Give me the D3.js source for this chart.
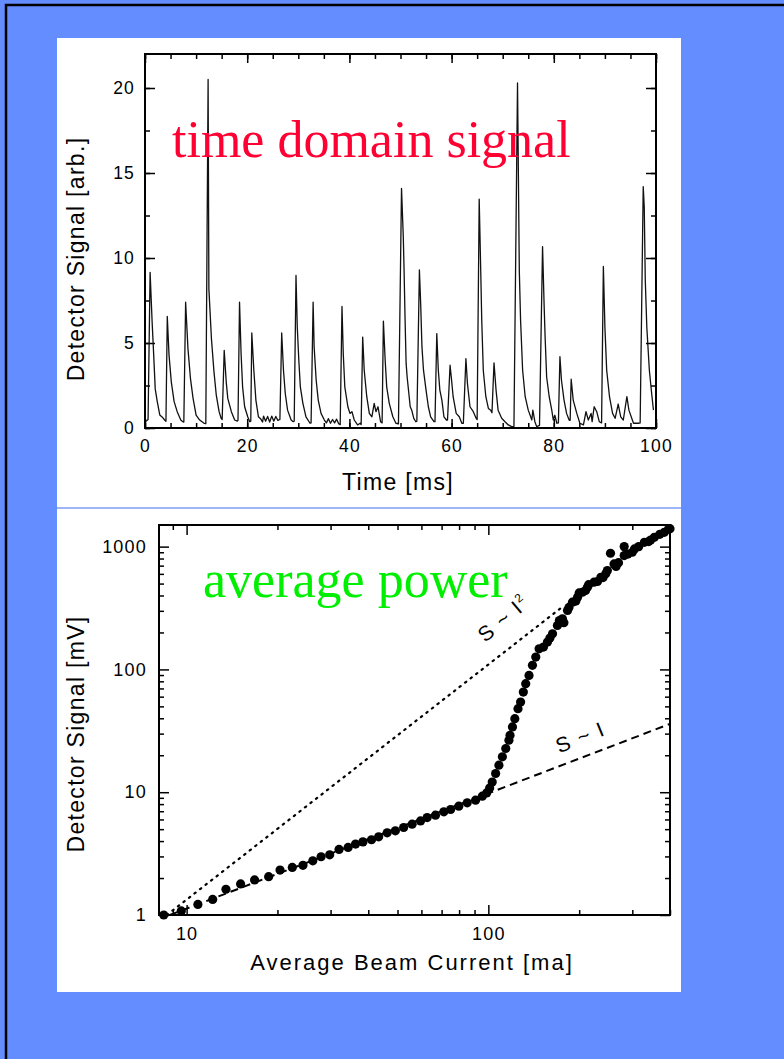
<!DOCTYPE html>
<html>
<head>
<meta charset="utf-8">
<script src="https://cdn.jsdelivr.net/npm/d3@7"></script>
<style>
  body { margin: 0; background: #648eff; }
  svg { display: block; }
  .tick text { font-family: "Liberation Sans", Arial, sans-serif; fill: #000; }
  .tick line { stroke: #000; stroke-width: 1.5; }
</style>
</head>
<body>
<div id="chart"></div>
<script>
// ---- top panel: detector signal vs time ----
const timeMs = [0.2, 0.6, 1.0, 1.4, 1.7, 2.0, 2.4, 2.9, 3.5, 3.85, 4.1,
  4.36, 4.7, 5.15, 5.7, 6.3, 7.0, 7.4, 7.6,
  7.95, 8.4, 8.9, 9.4, 10.0, 10.7, 11.5, 11.9,
  12.35, 12.5, 13.0, 13.5, 13.95, 14.5, 14.9, 15.1,
  15.5, 15.9, 16.2, 16.9, 17.55, 18.05, 18.2,
  18.5, 18.8, 19.1, 19.5, 20.1, 20.5, 20.7,
  20.9, 21.3, 21.7, 22.2, 22.7, 23.0, 23.2, 23.6, 24.0, 24.4, 24.8, 25.2, 25.6, 26.0, 26.4,
  26.75, 27.1, 27.45, 27.9, 28.6, 29.0, 29.2,
  29.55, 29.8, 30.1, 30.4, 30.9, 31.5, 32.3, 32.5,
  32.9, 33.1, 33.5, 33.9, 34.45, 35.1, 35.5, 35.9, 36.3, 36.7, 37.1, 37.5, 37.9, 38.2,
  38.55, 38.8, 39.1, 39.7, 40.1, 40.5, 40.95, 41.6, 42.1, 42.3,
  42.6, 42.9, 43.4, 43.9, 44.4, 44.85, 45.2, 45.6, 46.1, 46.4,
  46.65, 47.0, 47.3, 47.8, 48.5, 49.1, 49.6,
  50.2, 50.55, 50.7, 50.9, 51.1, 51.3, 51.9, 52.2, 52.6, 53.0, 53.2,
  53.7, 53.95, 54.2, 54.5, 55.0, 55.45, 55.9, 56.55, 56.75,
  57.1, 57.4, 57.7, 58.1, 58.5, 59.0, 59.2,
  59.7, 60.0, 60.3, 60.9, 61.5, 62.0, 62.3,
  62.8, 63.1, 63.6, 64.25, 64.8, 65.0,
  65.4, 65.7, 65.9, 66.2, 66.7, 67.2, 67.65, 67.9,
  68.3, 68.7, 69.1, 69.8, 70.45, 71.1, 71.75, 72.2,
  72.9, 73.25, 73.5, 73.9, 74.4, 75.0, 75.7, 75.9, 76.3, 76.65, 77.2,
  77.8, 78.1, 78.3, 78.6, 79.1, 79.6, 79.9, 80.2, 80.6, 80.9,
  81.2, 81.5, 82.0, 82.5, 83.0, 83.2,
  83.4, 83.8, 84.5, 85.1, 85.8, 86.3, 86.75, 87.3, 87.5, 87.9, 88.4, 88.9, 89.35,
  89.7, 90.0, 90.35, 90.9, 91.5, 92.0, 92.6, 93.1, 93.6, 94.3, 94.7, 95.25, 95.6, 96.55, 96.9,
  97.5, 97.7, 97.9, 98.2, 98.7, 99.15, 99.5];
const detectorArb = [0.4, 0.5, 9.16, 6.2, 4.3, 2.3, 1.55, 0.76, 0.6, 0.47, 0.4,
  6.56, 4.3, 2.7, 1.55, 0.96, 0.47, 0.37, 0.35,
  7.4, 4.7, 2.9, 1.76, 0.76, 0.47, 0.29, 0.25,
  20.5, 8.2, 5.26, 3.3, 1.93, 0.96, 0.57, 0.5,
  4.57, 2.7, 1.74, 0.96, 0.47, 0.41, 0.45,
  7.4, 4.4, 2.42, 1.25, 0.66, 0.37, 0.4,
  5.59, 3.4, 1.64, 0.66, 0.51, 0.35, 0.7, 0.4, 0.68, 0.35, 0.7, 0.4, 0.68, 0.45, 0.5,
  5.59, 3.4, 2.03, 1.05, 0.47, 0.37, 0.4,
  8.97, 5.94, 3.99, 2.42, 1.45, 0.66, 0.28, 0.3,
  7.4, 4.77, 2.81, 1.64, 0.86, 0.47, 0.3, 0.55, 0.28, 0.5, 0.3, 0.52, 0.25, 0.2,
  7.15, 4.37, 2.42, 1.25, 0.86, 0.96, 0.47, 0.18, 0.28, 0.2,
  5.35, 3.4, 1.84, 0.86, 0.66, 1.45, 0.96, 1.25, 0.37, 0.3,
  6.29, 3.99, 2.42, 1.45, 0.66, 0.28, 0.25,
  14.1, 11.2, 9.26, 6.33, 3.8, 3.0, 1.25, 1.05, 0.57, 0.37, 0.4,
  9.3, 7.3, 4.77, 3.4, 2.23, 1.25, 0.66, 0.37, 0.37,
  5.55, 3.4, 2.23, 1.64, 0.66, 0.47, 0.47,
  3.69, 2.8, 1.84, 0.86, 0.66, 0.28, 0.28,
  4.08, 2.62, 1.25, 0.96, 0.57, 0.5,
  13.46, 9.26, 6.33, 3.4, 1.84, 1.15, 1.05, 0.9,
  3.83, 2.23, 1.05, 0.57, 0.37, 0.18, 0.08, 0.1,
  20.3, 9.26, 6.33, 3.4, 1.84, 1.05, 0.47, 1.05, 0.37, 0.08, 0.15,
  10.67, 7.3, 5.35, 3.0, 1.84, 1.05, 0.47, 0.75, 0.28, 0.3,
  4.2, 2.81, 1.64, 0.86, 0.47, 0.45,
  2.87, 1.64, 0.86, 0.28, 0.18, 0.96, 0.47, 0.86, 0.37, 1.25, 0.96, 0.37, 0.3,
  9.5, 5.94, 3.4, 1.84, 0.86, 0.57, 1.41, 0.66, 0.47, 1.84, 1.05, 0.57, 0.28, 0.28, 0.3,
  14.2, 13.0, 8.7, 5.94, 3.4, 2.03, 1.05];
const timeTicks = [0, 20, 40, 60, 80, 100];
const arbTicks = [0, 5, 10, 15, 20];

// ---- bottom panel: detector signal vs average beam current ----
const beamCurrentMa = [8.4, 9.6, 10.9, 12.2, 13.5, 15.1, 16.8, 18.7, 20.4, 22.4, 24.3, 26.2, 27.9, 29.8,
  32.0, 34.3, 36.3, 38.4, 41.0, 43.3, 46.2, 49.2, 52.4, 55.9, 59.6, 62.7, 66.8, 71.2, 75.0, 79.8,
  85.1, 90.7, 95.5, 98.7, 101, 103, 105.7, 108.4, 111.3, 114.2, 117, 118, 120.2, 122.4, 125.4,
  127.9, 130.6, 133, 136.4, 140, 143.6, 147.3, 152.3, 157, 163.2, 169.4, 176, 183, 190, 197.5,
  205, 213, 224, 236, 248, 261, 282, 305, 329, 355, 383, 400,
  160, 172, 185, 200, 215, 230, 245, 265, 290, 315, 345, 370, 395,
  178, 195, 210, 240, 270, 300, 340, 254, 282];
const signalMv = [1.0, 1.08, 1.22, 1.34, 1.62, 1.79, 1.93, 2.05, 2.32, 2.44, 2.54, 2.76, 2.98, 3.09,
  3.42, 3.55, 3.78, 3.94, 4.1, 4.33, 4.67, 4.85, 5.16, 5.49, 5.84, 6.22, 6.5, 6.92, 7.23, 7.69,
  8.19, 8.61, 9.28, 9.87, 10.8, 12.1, 14.2, 16.6, 19.4, 22.7, 26.5, 29.1, 34, 39.7, 47.9,
  54.2, 65.4, 76.5, 89.4, 108, 126, 147, 152, 167, 195, 228, 258, 302, 353, 387,
  425, 467, 513, 563, 638, 723, 845, 958, 1084, 1191, 1307, 1400,
  180, 250, 320, 420, 490, 520, 600, 690, 870, 1000, 1130, 1260, 1380,
  240, 360, 440, 560, 740, 900, 1100, 883, 1000];
// guide lines, end points
const squareLawCurrent = [8.6, 175];
const squareLawSignal = [1.0, 320];
const linearLawCurrent = [8.8, 400];
const linearLawSignal = [1.0, 36];
const currentTicks = [10, 100];
const mvTicks = [1, 10, 100, 1000];

const W = 784, H = 1059;
const svg = d3.select("#chart").append("svg")
    .attr("width", W)
    .attr("height", H);

// slide background + border
svg.append("rect").attr("x", 0).attr("y", 0).attr("width", W).attr("height", H).attr("fill", "#648eff");
svg.append("rect").attr("x", 6).attr("y", 5).attr("width", 900).attr("height", 1200)
    .attr("fill", "none").attr("stroke", "#000").attr("stroke-width", 2.5);
// white panel, split by a thin blue line
svg.append("rect").attr("x", 57).attr("y", 38).attr("width", 624).attr("height", 954).attr("fill", "#fff");
svg.append("line").attr("x1", 57).attr("x2", 681).attr("y1", 508).attr("y2", 508)
    .attr("stroke", "#7d9ef5").attr("stroke-width", 1.5);

const font = '"Liberation Sans", Arial, sans-serif';

function axisTicks(g, axis, size, pad, labels, fontSize) {
  g.call(axis.tickSize(-size).tickPadding(pad));
  g.select(".domain").remove();
  g.selectAll(".tick text")
      .style("font-size", fontSize + "px")
      .style("letter-spacing", "1.2px");
  if (!labels) g.selectAll(".tick text").remove();
}

// ================= TOP CHART =================
const xT = d3.scaleLinear().domain([0, 100]).range([145, 656]);
const yT = d3.scaleLinear().domain([0, 22]).range([428, 54]);

const topChart = svg.append("g");

// bottom / top x ticks
axisTicks(topChart.append("g").attr("transform", "translate(0,428)"),
  d3.axisBottom(xT).tickValues(d3.range(0, 101, 5)).tickFormat(""), 5, 12, false, 17.5);
axisTicks(topChart.append("g").attr("transform", "translate(0,428)"),
  d3.axisBottom(xT).tickValues(timeTicks), 9, 12, true, 17.5);
axisTicks(topChart.append("g").attr("transform", "translate(0,54)"),
  d3.axisTop(xT).tickValues(d3.range(0, 101, 5)).tickFormat(""), 5, 3, false, 17.5);
axisTicks(topChart.append("g").attr("transform", "translate(0,54)"),
  d3.axisTop(xT).tickValues(timeTicks).tickFormat(""), 9, 3, false, 17.5);
// left / right y ticks
axisTicks(topChart.append("g").attr("transform", "translate(145,0)"),
  d3.axisLeft(yT).tickValues(d3.range(0, 22, 2.5)).tickFormat(""), 5, 10, false, 17.5);
axisTicks(topChart.append("g").attr("transform", "translate(145,0)"),
  d3.axisLeft(yT).tickValues(arbTicks), 10, 10, true, 17.5);
axisTicks(topChart.append("g").attr("transform", "translate(656,0)"),
  d3.axisRight(yT).tickValues(d3.range(0, 22, 2.5)).tickFormat(""), 5, 3, false, 17.5);
axisTicks(topChart.append("g").attr("transform", "translate(656,0)"),
  d3.axisRight(yT).tickValues(arbTicks).tickFormat(""), 10, 3, false, 17.5);

const trace = timeMs.map((t, i) => [t, detectorArb[i]]);
topChart.append("path")
    .datum(trace)
    .attr("fill", "none")
    .attr("stroke", "#111")
    .attr("stroke-width", 1.3)
    .attr("stroke-linejoin", "round")
    .attr("d", d3.line().x(d => xT(d[0])).y(d => yT(d[1])));

topChart.append("rect").attr("x", 145).attr("y", 54).attr("width", 511).attr("height", 374)
    .attr("fill", "none").attr("stroke", "#000").attr("stroke-width", 2);

topChart.append("text")
    .attr("x", 398).attr("y", 490)
    .attr("text-anchor", "middle")
    .style("font-family", font).style("font-size", "23px").style("letter-spacing", "1.3px")
    .text("Time [ms]");
topChart.append("text")
    .attr("transform", "translate(84,259) rotate(-90)")
    .attr("text-anchor", "middle")
    .style("font-family", font).style("font-size", "23px").style("letter-spacing", "1.3px")
    .text("Detector Signal [arb.]");
topChart.append("text")
    .attr("x", 172).attr("y", 157)
    .attr("fill", "#ff0033")
    .style("font-family", '"Liberation Serif", "Times New Roman", serif')
    .style("font-size", "52px")
    .text("time domain signal");

// ================= BOTTOM CHART =================
const xB = d3.scaleLog().domain([8.1, 400]).range([159, 670]);
const yB = d3.scaleLog().domain([1, 1500]).range([915, 525]);
const botChart = svg.append("g");

const xMinor = xB.ticks().filter(v => !currentTicks.includes(v));
const yMinor = yB.ticks().filter(v => !mvTicks.includes(v));

axisTicks(botChart.append("g").attr("transform", "translate(0,915)"),
  d3.axisBottom(xB).tickValues(xMinor).tickFormat(""), 5, 12, false, 18);
axisTicks(botChart.append("g").attr("transform", "translate(0,915)"),
  d3.axisBottom(xB).tickValues(currentTicks).tickFormat(d3.format("d")), 10, 12, true, 18);
axisTicks(botChart.append("g").attr("transform", "translate(0,525)"),
  d3.axisTop(xB).tickValues(xMinor).tickFormat(""), 5, 3, false, 18);
axisTicks(botChart.append("g").attr("transform", "translate(0,525)"),
  d3.axisTop(xB).tickValues(currentTicks).tickFormat(""), 10, 3, false, 18);
axisTicks(botChart.append("g").attr("transform", "translate(159,0)"),
  d3.axisLeft(yB).tickValues(yMinor).tickFormat(""), 5, 12, false, 18);
axisTicks(botChart.append("g").attr("transform", "translate(159,0)"),
  d3.axisLeft(yB).tickValues(mvTicks).tickFormat(d3.format("d")), 10, 12, true, 18);
axisTicks(botChart.append("g").attr("transform", "translate(670,0)"),
  d3.axisRight(yB).tickValues(yMinor).tickFormat(""), 5, 3, false, 18);
axisTicks(botChart.append("g").attr("transform", "translate(670,0)"),
  d3.axisRight(yB).tickValues(mvTicks).tickFormat(""), 10, 3, false, 18);

const guide = d3.line().x(d => xB(d[0])).y(d => yB(d[1]));
botChart.append("path")
    .datum(squareLawCurrent.map((c, i) => [c, squareLawSignal[i]]))
    .attr("fill", "none").attr("stroke", "#000").attr("stroke-width", 2.2)
    .attr("stroke-dasharray", "1.5,5.5").attr("stroke-linecap", "round")
    .attr("d", guide);
botChart.append("path")
    .datum(linearLawCurrent.map((c, i) => [c, linearLawSignal[i]]))
    .attr("fill", "none").attr("stroke", "#000").attr("stroke-width", 2)
    .attr("stroke-dasharray", "8,5")
    .attr("d", guide);

botChart.selectAll("circle.pt")
    .data(beamCurrentMa.map((c, i) => [c, signalMv[i]]))
    .enter().append("circle")
    .attr("class", "pt")
    .attr("cx", d => xB(d[0]))
    .attr("cy", d => yB(d[1]))
    .attr("r", 4.6)
    .attr("fill", "#000");

botChart.append("rect").attr("x", 159).attr("y", 525).attr("width", 511).attr("height", 390)
    .attr("fill", "none").attr("stroke", "#000").attr("stroke-width", 2);

botChart.append("text")
    .attr("x", 412).attr("y", 970)
    .attr("text-anchor", "middle")
    .style("font-family", font).style("font-size", "22px").style("letter-spacing", "2px")
    .text("Average Beam Current [ma]");
botChart.append("text")
    .attr("transform", "translate(84,734) rotate(-90)")
    .attr("text-anchor", "middle")
    .style("font-family", font).style("font-size", "23px").style("letter-spacing", "1.3px")
    .text("Detector Signal [mV]");

const sq = botChart.append("text")
    .attr("transform", "translate(508,624) rotate(-40)")
    .attr("text-anchor", "middle")
    .style("font-family", font).style("font-size", "21px").style("letter-spacing", "1.5px");
sq.append("tspan").text("S ~ I");
sq.append("tspan").attr("dy", -9).style("font-size", "12px").text("2");

botChart.append("text")
    .attr("transform", "translate(583,744) rotate(-22)")
    .attr("text-anchor", "middle")
    .style("font-family", font).style("font-size", "21px").style("letter-spacing", "1.5px")
    .text("S ~ I");

botChart.append("text")
    .attr("x", 203).attr("y", 597)
    .attr("fill", "#00ee00")
    .style("font-family", '"Liberation Serif", "Times New Roman", serif')
    .style("font-size", "52px")
    .text("average power");
</script>
</body>
</html>
